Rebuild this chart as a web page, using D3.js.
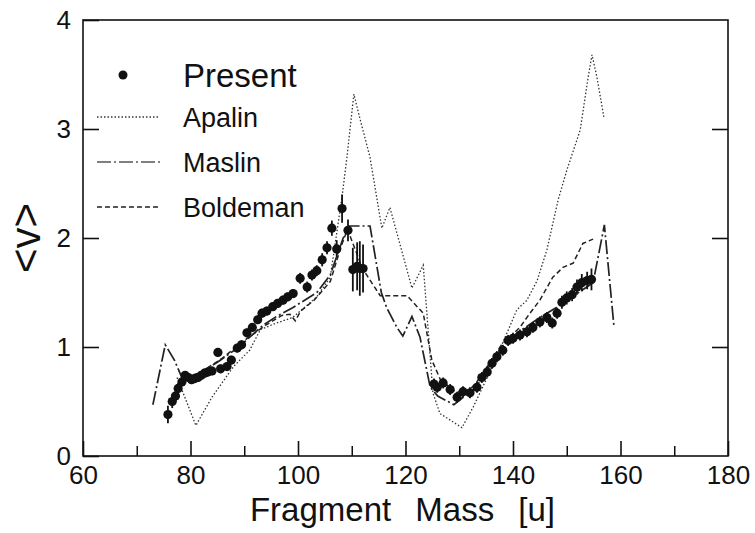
<!DOCTYPE html>
<html><head><meta charset="utf-8">
<script src="https://cdn.jsdelivr.net/npm/d3@7"></script>
<style>body{margin:0;background:#fff}svg{display:block}text{font-family:"Liberation Sans",Arial,Helvetica,sans-serif;fill:#111}</style>
</head><body>
<svg id="c" width="755" height="533"></svg>
<script>
// ---- data ----
const xTicks = [60, 80, 100, 120, 140, 160, 180];
const xMinorTicks = [70, 90, 110, 130, 150, 170];
const yTicks = [0, 1, 2, 3, 4];
const legendLabels = ["Present", "Apalin", "Maslin", "Boldeman"];

const presentMass = [75.8,76.6,77.2,77.7,78.4,79,79.6,80.2,80.8,81.4,82,82.6,83.2,84,85.1,85.6,86.8,87.6,88.7,89.5,90.5,91.5,92.5,93.3,94.2,95.3,96.2,97.2,98.1,99.1,100.4,101.7,102.6,103.5,104.5,105.4,106.3,107.2,108.2,109.3,110.2,111,111.5,112.1,
  125.3,125.9,127,128.3,129.6,130.7,132,133.3,134.2,135.2,136.1,137,138.1,139.1,140,141.3,142.6,143.7,145,146.3,147.3,148.2,149.1,150,151,151.9,152.8,153.8,154.6];
const presentV = [0.38,0.50,0.55,0.62,0.68,0.74,0.72,0.70,0.71,0.72,0.74,0.76,0.77,0.78,0.95,0.80,0.82,0.88,0.99,1.02,1.13,1.18,1.25,1.31,1.33,1.37,1.40,1.43,1.46,1.49,1.63,1.55,1.66,1.70,1.80,1.91,2.09,1.90,2.27,2.07,1.71,1.74,1.72,1.72,
  0.66,0.63,0.67,0.61,0.54,0.59,0.58,0.63,0.72,0.77,0.85,0.91,0.97,1.06,1.08,1.11,1.14,1.18,1.23,1.27,1.22,1.31,1.41,1.45,1.48,1.55,1.59,1.61,1.62];
const presentErr = [0.08,0.06,0.05,0.05,0.04,0.04,0.04,0.04,0.04,0.04,0.04,0.04,0.04,0.04,0.04,0.04,0.04,0.04,0.04,0.04,0.04,0.04,0.04,0.04,0.04,0.04,0.04,0.04,0.04,0.04,0.05,0.05,0.05,0.05,0.06,0.06,0.07,0.08,0.13,0.1,0.2,0.22,0.25,0.22,
  0.05,0.05,0.05,0.05,0.05,0.05,0.05,0.05,0.05,0.05,0.05,0.05,0.05,0.05,0.05,0.05,0.05,0.05,0.05,0.05,0.05,0.05,0.06,0.06,0.06,0.07,0.08,0.08,0.1];

const apalinMass = [77.5,81,84,88,91,93,96,99,103.5,106,108.2,109.1,110.4,111.5,113.4,115.6,117.1,121.2,123.3,125.1,126.4,130.5,132.6,135.2,138.9,140.7,142.6,144.5,146.3,148.4,150,152.5,154,154.7,155.6,156.9];
const apalinV = [0.72,0.28,0.54,0.82,0.97,1.16,1.22,1.27,1.46,1.64,2.38,2.74,3.32,3.1,2.74,2.09,2.28,1.54,1.75,0.58,0.39,0.26,0.45,0.72,1.13,1.34,1.43,1.61,1.89,2.35,2.62,2.99,3.48,3.68,3.48,3.11];

const maslinMass = [73,75.3,77,78.4,81,85,89,93.5,96,99,103.5,106,108.4,109.6,113.4,115.5,116.5,118.4,119.5,121.2,122.7,124.6,126,129,131,133,135,138.9,142,145,148,151,154.9,157,158.8];
const maslinV = [0.47,1.02,0.88,0.72,0.74,0.86,1.0,1.2,1.28,1.36,1.5,1.66,2.0,2.11,2.11,1.5,1.36,1.18,1.1,1.28,1.09,0.63,0.55,0.47,0.55,0.62,0.78,1.06,1.17,1.27,1.36,1.46,1.59,2.12,1.18];

const boldemanMass = [79,82,86,90,94,97,98.5,99.5,100.5,103,106,108,109.2,112,115.3,120.3,123.3,124.9,126.5,129,131,133,135.2,138,141.3,143,145,147.4,149.3,151.2,153,154.9];
const boldemanV = [0.72,0.77,0.9,1.06,1.2,1.29,1.3,1.24,1.33,1.43,1.6,1.92,2.08,1.72,1.47,1.47,1.31,0.88,0.7,0.6,0.57,0.66,0.82,1.03,1.18,1.3,1.43,1.64,1.73,1.77,1.95,1.99];

// ---- chart ----
const svg = d3.select("#c");
const x = d3.scaleLinear().domain([60, 180]).range([83, 728]);
const y = d3.scaleLinear().domain([0, 4]).range([456, 20]);
const ink = "#111";

// frame
svg.append("rect").attr("x", x(60)).attr("y", y(4)).attr("width", x(180) - x(60)).attr("height", y(0) - y(4))
  .attr("fill", "none").attr("stroke", ink).attr("stroke-width", 1.6);

// bottom axis (ticks inward)
const gx = svg.append("g").attr("transform", `translate(0,${y(0)})`)
  .call(d3.axisBottom(x).tickValues(xTicks).tickSizeInner(-15).tickSizeOuter(0).tickPadding(10).tickFormat(d3.format("d")));
gx.select(".domain").remove();
gx.selectAll(".tick line").attr("stroke", ink).attr("stroke-width", 1.6);
gx.selectAll("text").attr("font-size", 26).attr("fill", ink).attr("font-family", "Liberation Sans, Arial, sans-serif");
const gxm = svg.append("g").attr("transform", `translate(0,${y(0)})`)
  .call(d3.axisBottom(x).tickValues(xMinorTicks).tickSize(-10).tickFormat(""));
gxm.select(".domain").remove();
gxm.selectAll(".tick line").attr("stroke", ink).attr("stroke-width", 1.5);

// left axis
const gy = svg.append("g").attr("transform", `translate(${x(60)},0)`)
  .call(d3.axisLeft(y).tickValues(yTicks).tickSizeInner(-16).tickSizeOuter(0).tickPadding(12).tickFormat(d3.format("d")));
gy.select(".domain").remove();
gy.selectAll(".tick line").attr("stroke", ink).attr("stroke-width", 1.6);
gy.selectAll("text").attr("font-size", 26).attr("fill", ink).attr("font-family", "Liberation Sans, Arial, sans-serif");
// right axis ticks
const gr = svg.append("g").attr("transform", `translate(${x(180)},0)`)
  .call(d3.axisRight(y).tickValues(yTicks.slice(1, 4)).tickSize(-16).tickFormat(""));
gr.select(".domain").remove();
gr.selectAll(".tick line").attr("stroke", ink).attr("stroke-width", 1.6);

// axis titles
svg.append("text").attr("x", (x(60) + x(180)) / 2 - 3).attr("y", 521).attr("text-anchor", "middle")
  .attr("font-size", 33).style("word-spacing", "15px").text("Fragment Mass [u]");
svg.append("text").attr("transform", `translate(40,${y(2)}) rotate(-90)`).attr("text-anchor", "middle")
  .attr("font-size", 42).text("<v>");

// lines
const line = (ms, vs) => d3.line().x((d, i) => x(ms[i])).y((d, i) => y(vs[i]))(ms);
svg.append("path").attr("d", line(apalinMass, apalinV)).attr("fill", "none").attr("stroke", "#333")
  .attr("stroke-width", 1.3).attr("stroke-dasharray", "1.5,2");
svg.append("path").attr("d", line(maslinMass, maslinV)).attr("fill", "none").attr("stroke", "#222")
  .attr("stroke-width", 1.7).attr("stroke-dasharray", "14,3,2,3");
svg.append("path").attr("d", line(boldemanMass, boldemanV)).attr("fill", "none").attr("stroke", "#222")
  .attr("stroke-width", 1.5).attr("stroke-dasharray", "5,3");

// present: error bars + dots
const pts = presentMass.map((m, i) => ({m, v: presentV[i], e: presentErr[i]}));
svg.append("g").selectAll("line").data(pts).join("line")
  .attr("x1", d => x(d.m)).attr("x2", d => x(d.m))
  .attr("y1", d => y(d.v - d.e)).attr("y2", d => y(d.v + d.e))
  .attr("stroke", ink).attr("stroke-width", 1.8);
svg.append("g").selectAll("circle").data(pts).join("circle")
  .attr("cx", d => x(d.m)).attr("cy", d => y(d.v)).attr("r", 4.6).attr("fill", ink);

// legend
const lg = svg.append("g");
lg.append("circle").attr("cx", 123).attr("cy", 75).attr("r", 4.5).attr("fill", ink);
lg.append("text").attr("x", 183).attr("y", 87).attr("font-size", 33).text(legendLabels[0]);
const legStyles = [["1.5,2", 1.3, "#333"], ["14,3,2,3", 1.7, "#555"], ["5,3", 1.5, "#222"]];
[117, 162, 207].forEach((ly, i) => {
  lg.append("line").attr("x1", 97).attr("x2", 160).attr("y1", ly).attr("y2", ly)
    .attr("stroke", legStyles[i][2]).attr("stroke-width", legStyles[i][1]).attr("stroke-dasharray", legStyles[i][0]);
  lg.append("text").attr("x", 183).attr("y", ly + 10).attr("font-size", 27).text(legendLabels[i + 1]);
});
</script>
</body></html>
